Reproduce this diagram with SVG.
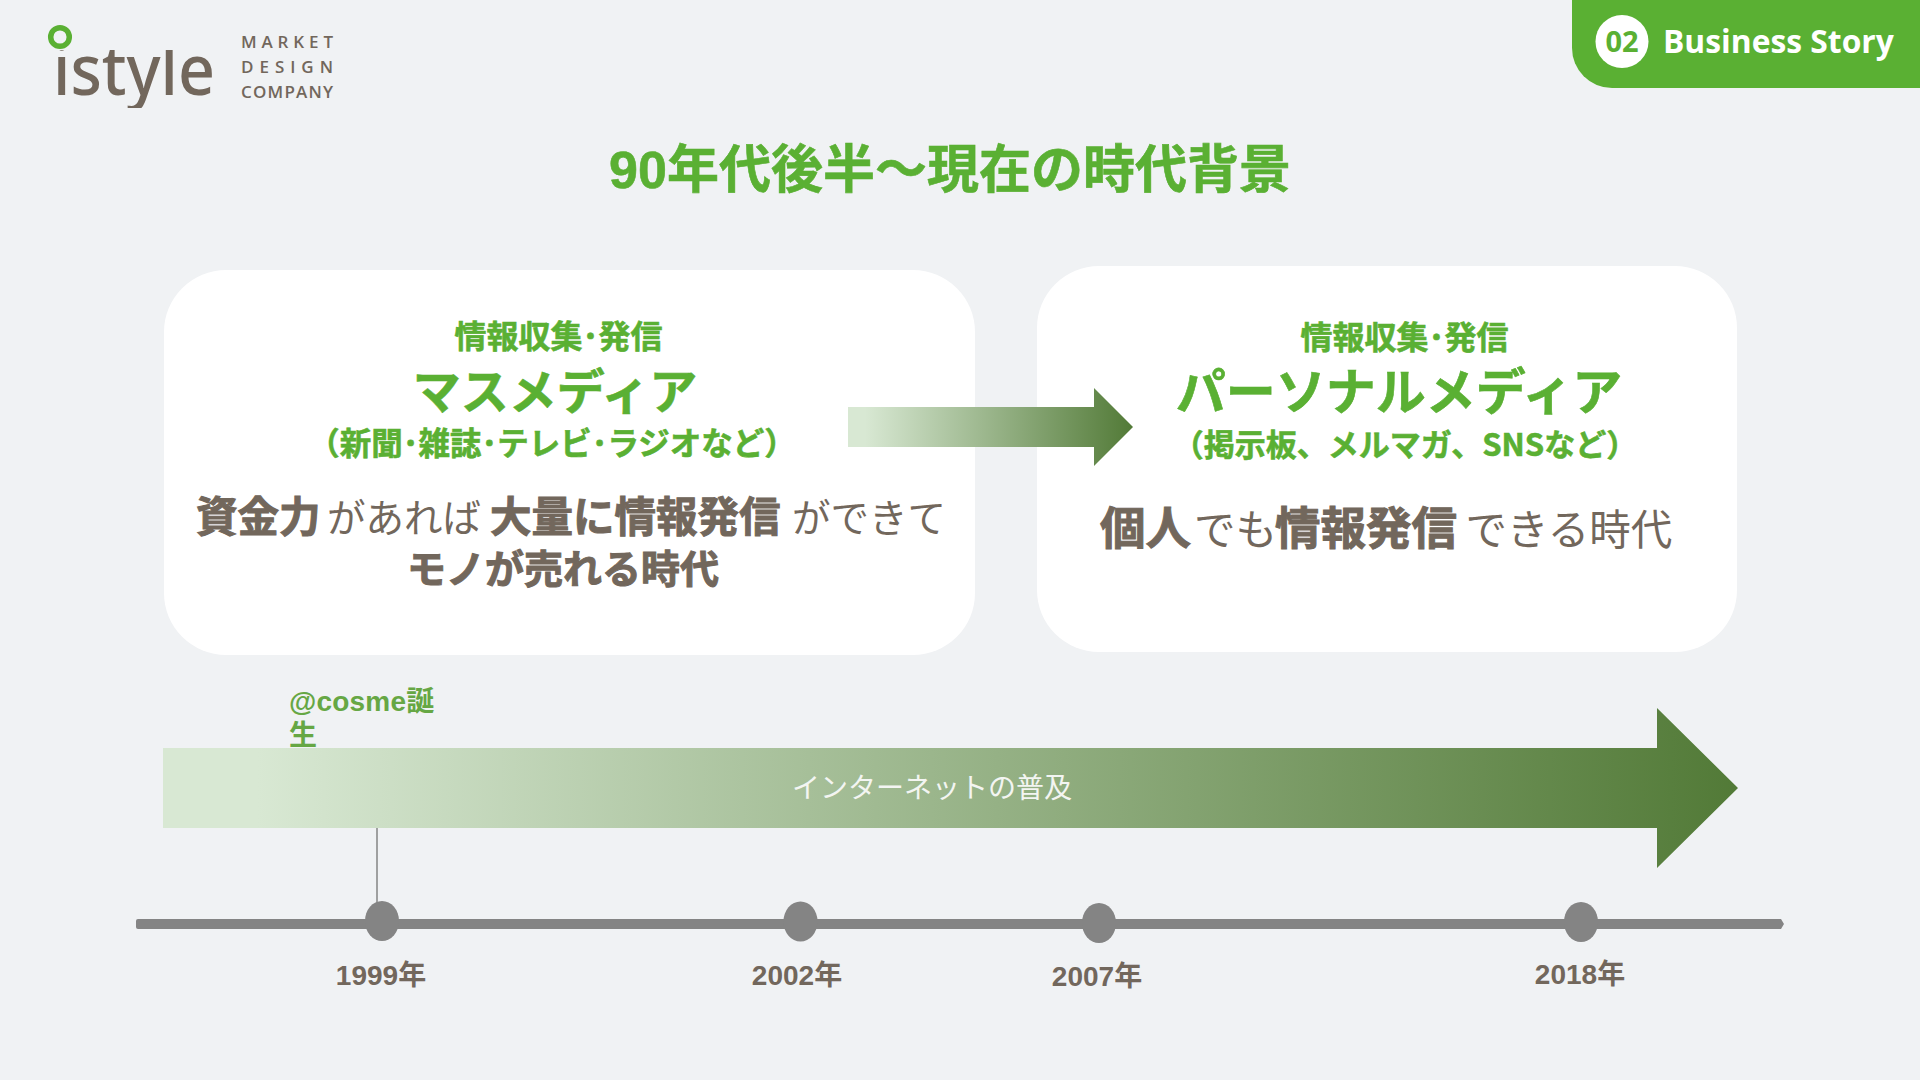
<svg xmlns="http://www.w3.org/2000/svg" width="1920" height="1080" viewBox="0 0 1920 1080">
<style>
text{font-family:"Noto Sans CJK JP","Noto Sans",sans-serif}
.g{fill:#5AB033;font-weight:700;text-anchor:middle;stroke:#5AB033;stroke-width:.6}
.b{fill:#72675C;font-weight:400}
.bb{font-weight:700;stroke:#72675C;stroke-width:1}
.l{font-family:"Liberation Sans","Noto Sans CJK JP",sans-serif;font-weight:700;font-size:28px}
.y{fill:#72675C;text-anchor:middle}
.m{font-family:"Open Sans",sans-serif;font-weight:600;fill:#72675C;font-size:17px}
.d{fill:#848484}
</style>
<defs>
<linearGradient id="gr"><stop offset="0" stop-color="#D8E8D3"/><stop offset=".06" stop-color="#D8E8D3"/><stop offset="1" stop-color="#527A37"/></linearGradient>
<clipPath id="logoclip"><rect x="50" y="50" width="170" height="58"/></clipPath>
</defs>
<rect width="1920" height="1080" fill="#F0F2F4"/>
<g id="logo">
<text x="53" y="95" font-size="70" font-weight="500" textLength="162" lengthAdjust="spacingAndGlyphs" clip-path="url(#logoclip)" style="font-family:'Noto Sans',sans-serif" fill="#72675C">istyle</text>
<circle cx="60" cy="37" r="9.300" fill="#F0F2F4" stroke="#5AB033" stroke-width="5.500"/>
<text class="m" x="241" y="47.500" textLength="92">MARKET</text>
<text class="m" x="241" y="72.500" textLength="92">DESIGN</text>
<text class="m" x="241" y="98" textLength="92">COMPANY</text>
</g>
<g id="section-tab">
<path d="M1572 0H1920V88H1612A40 40 0 0 1 1572 48Z" fill="#5AB033"/>
<circle cx="1622" cy="41.500" r="26.500" fill="#fff"/>
<text x="1622" y="51.500" font-size="29" font-weight="700" text-anchor="middle" fill="#5AB033" style="font-family:'Open Sans',sans-serif">02</text>
<text x="1663" y="53" font-size="31.800" font-weight="700" fill="#fff" style="font-family:'Open Sans',sans-serif">Business Story</text>
</g>
<text id="title" class="g" x="950" y="188" font-size="52" style="font-family:'Liberation Sans','Noto Sans CJK JP',sans-serif">90年代後半～現在の時代背景</text>
<g id="card-mass">
<rect x="164" y="270" width="811" height="385" rx="62" fill="#fff"/>
<text class="g" x="558.500" y="348" font-size="32">情報収集･発信</text>
<text class="g" x="555" y="408.500" font-size="48">マスメディア</text>
<text class="g" x="552" y="455" font-size="31.500">（新聞･雑誌･テレビ･ラジオなど）</text>
<text class="b" y="532" font-size="38.500"><tspan class="bb" x="196" font-size="41.500">資金力</tspan><tspan x="327">があれば</tspan><tspan class="bb" x="490" font-size="41.500">大量に情報発信</tspan><tspan x="792">ができて</tspan></text>
<text class="b bb" x="563" y="583" font-size="39" text-anchor="middle">モノが売れる時代</text>
</g>
<g id="card-personal">
<rect x="1037" y="266" width="700" height="386" rx="62" fill="#fff"/>
<text class="g" x="1404.500" y="349" font-size="32">情報収集･発信</text>
<text class="g" x="1399" y="409.500" font-size="50">パーソナルメディア</text>
<text class="g" x="1405" y="456" font-size="31">（掲示板、メルマガ、SNSなど）</text>
<text class="b" y="545" font-size="41.500"><tspan class="bb" x="1100" font-size="45.500">個人</tspan><tspan x="1194">でも</tspan><tspan class="bb" x="1275" font-size="45.500">情報発信</tspan><tspan x="1465.500">できる時代</tspan></text>
</g>
<g id="connectors">
<polygon points="848,407 1094,407 1094,388 1133,427 1094,466 1094,447 848,447" fill="url(#gr)"/>
<line x1="377" y1="828" x2="377" y2="905" stroke="#848484" stroke-width="1.500"/>
<rect x="136" y="919" width="1645" height="10" rx="2" fill="#848484"/>
<polygon points="1778,919 1781,919 1784,924 1781,929 1778,929" fill="#848484"/>
</g>
<g id="internet-arrow">
<polygon points="163,748 1657,748 1657,708 1738,788 1657,868 1657,828 163,828" fill="url(#gr)"/>
<text x="932" y="798" font-size="28" text-anchor="middle" fill="#F3F5F2">インターネットの普及</text>
</g>
<g id="cosme-label">
<text class="l" fill="#66A744" x="289" y="711" letter-spacing=".2">@cosme誕</text>
<text class="l" fill="#66A744" x="289" y="745">生</text>
</g>
<g id="y1999"><ellipse class="d" cx="382" cy="921" rx="17" ry="20"/><text class="l y" x="381" y="985">1999年</text></g>
<g id="y2002"><ellipse class="d" cx="800.500" cy="921.500" rx="17" ry="20"/><text class="l y" x="797" y="985">2002年</text></g>
<g id="y2007"><ellipse class="d" cx="1099" cy="923" rx="17" ry="20"/><text class="l y" x="1097" y="986">2007年</text></g>
<g id="y2018"><ellipse class="d" cx="1581" cy="922" rx="17" ry="20"/><text class="l y" x="1580" y="984">2018年</text></g>
</svg>
